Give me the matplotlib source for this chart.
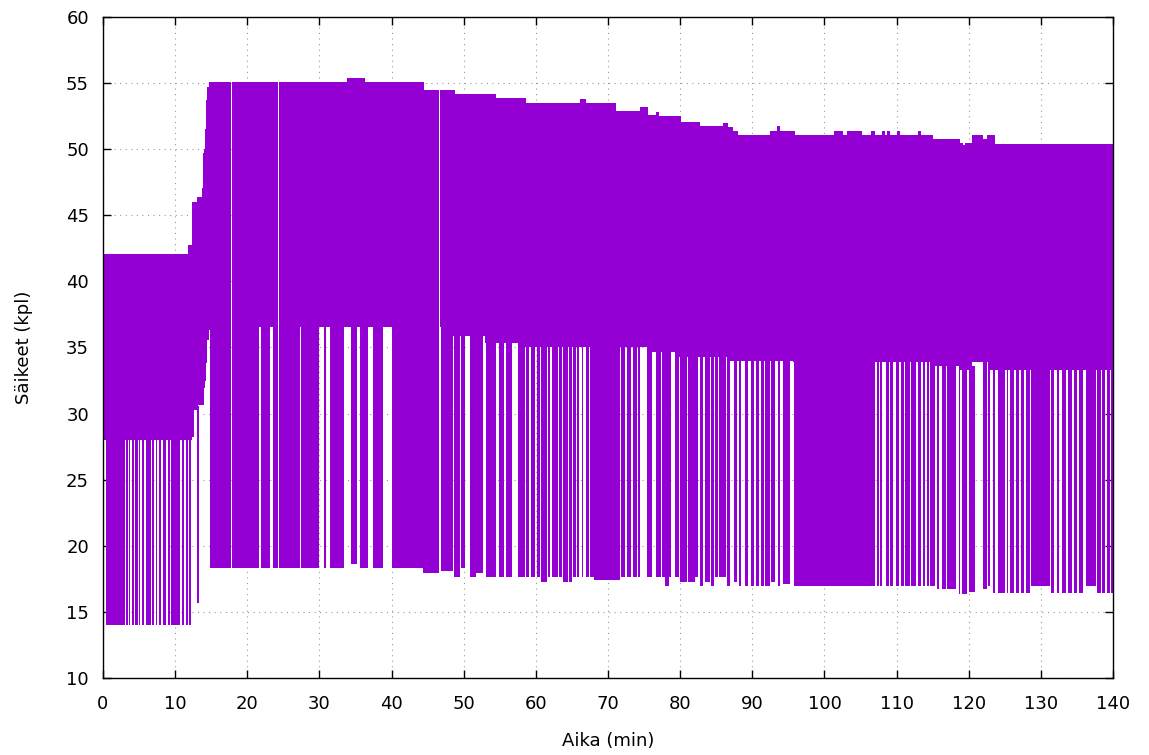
import numpy as np
import matplotlib
matplotlib.use("Agg")
import matplotlib.pyplot as plt

# upper edge of the thread count (step levels between breakpoints, minutes)
top_x = [0, 0.15, 11.75, 12.4, 13.0, 13.7, 13.8, 13.95, 14.1, 14.25, 14.4, 14.7,
         33.8, 36.3, 44.5, 48.8, 54.5, 58.6, 66.1, 67.0, 71.1, 74.4, 75.6, 76.6,
         77.1, 80.1, 82.8, 86.0, 86.6, 87.3, 88.0, 92.5, 93.4, 93.8, 95.9, 101.3,
         102.6, 103.1, 105.2, 106.4, 107.0, 108.0, 108.4, 108.7, 109.1, 110.1,
         110.5, 113.0, 113.4, 115.1, 118.8, 119.2, 119.5, 120.4, 122.0, 122.5,
         123.6, 140]
top_v = [42.4, 42.05, 42.75, 46.0, 46.4, 47.1, 49.7, 50.0, 51.5, 53.7, 54.7,
         55.05, 55.35, 55.05, 54.45, 54.2, 53.85, 53.5, 53.8, 53.5, 52.9, 53.2,
         52.6, 52.85, 52.5, 52.05, 51.75, 52.0, 51.7, 51.4, 51.07, 51.4, 51.75,
         51.4, 51.07, 51.4, 51.07, 51.4, 51.07, 51.4, 51.07, 51.4, 51.07, 51.4,
         51.07, 51.4, 51.07, 51.4, 51.07, 50.75, 50.45, 50.3, 50.45, 51.07,
         50.75, 51.07, 50.4]

# lower edge of the solid band
mid_x = [0, 12.4, 12.6, 13.2, 14.0, 14.15, 14.3, 14.4, 14.7, 14.85, 48.4, 53.0,
         57.5, 75.4, 79.3, 86.5, 95.6, 115.0, 118.8, 120.5, 123.0, 140]
mid_v = [28.0, 28.25, 30.3, 30.65, 31.9, 32.5, 33.8, 35.6, 36.3, 36.57, 35.9,
         35.35, 35.0, 34.66, 34.3, 34.0, 33.9, 33.6, 33.3, 33.9, 33.3]

# breaks in the data (no samples)
gap_x0 = [17.75, 24.25, 46.6]
gap_x1 = [17.9, 24.4, 46.75]

# drops below the band: start, end, lowest value
drop_x0 = [0.0, 0.4, 3.2, 3.6, 4.0, 4.5, 5.0, 5.45, 5.9, 6.85, 7.3, 7.75, 8.35,
           8.95, 9.5, 10.9, 11.5, 11.9, 13.0,
           14.85, 17.9, 21.85, 23.55, 24.4, 27.45, 30.6, 31.5, 34.4, 35.6, 37.4,
           40.0, 44.4, 46.85, 48.6, 49.6, 50.9, 51.7, 53.1, 54.9, 55.9, 57.5,
           58.7, 59.3, 60.1, 60.7, 61.65, 62.2, 63.25, 63.8, 64.6, 65.2, 65.7,
           66.35, 66.9, 67.5, 68.1, 71.8, 72.6, 73.4, 74.1,
           75.4, 76.65, 77.5, 77.9, 78.5, 79.3, 80.0, 81.1, 82.1, 82.75, 83.5,
           84.3, 84.9, 85.4, 86.55, 87.4, 88.1, 89.0, 89.8, 90.5, 91.2, 91.8,
           92.6, 93.6, 94.3, 95.8,
           107.25, 107.7, 108.5, 109.1, 109.9, 110.6, 111.2, 112.05, 112.9,
           113.6, 114.2, 114.7, 115.55, 116.3, 117.0, 118.6, 119.0, 120.0,
           122.0, 122.7, 123.4, 124.1, 125.3, 125.7, 126.5, 127.2, 128.0, 128.6,
           131.45, 132.2, 132.9, 133.8, 134.6, 135.3, 136.3, 137.75, 138.5,
           139.1, 139.7]
drop_x1 = [0.2, 3.05, 3.5, 3.8, 4.3, 4.9, 5.2, 5.7, 6.65, 7.1, 7.5, 8.1, 8.8,
           9.3, 10.7, 11.3, 11.8, 12.2, 13.3,
           17.75, 21.6, 23.15, 24.2, 27.3, 29.95, 30.9, 33.4, 35.2, 36.7, 38.75,
           44.4, 46.6, 48.5, 49.5, 50.2, 51.7, 52.7, 54.5, 55.6, 56.65, 58.5,
           59.05, 59.9, 60.6, 61.5, 61.96, 63.1, 63.6, 64.5, 65.0, 65.6, 66.0,
           66.6, 67.3, 68.0, 71.7, 72.4, 73.2, 74.0, 74.4,
           76.1, 77.3, 77.9, 78.5, 78.8, 79.85, 80.9, 82.1, 82.5, 83.2, 84.1,
           84.7, 85.3, 86.4, 86.9, 87.9, 88.5, 89.45, 90.3, 90.9, 91.6, 92.45,
           93.15, 93.85, 95.2, 107.0,
           107.5, 108.0, 108.9, 109.5, 110.3, 111.0, 111.9, 112.7, 113.35,
           113.95, 114.55, 115.3, 115.9, 116.8, 118.2, 118.8, 119.7, 120.9,
           122.5, 123.0, 123.7, 125.0, 125.5, 126.3, 127.0, 127.7, 128.5, 131.3,
           131.8, 132.55, 133.5, 134.35, 135.05, 135.9, 137.6, 138.3, 138.9,
           139.6, 140.0]
drop_low = [14.0] * 18 + [15.7] + \
           [18.3] * 8 + [18.6, 18.3, 18.3, 18.3, 17.97, 18.1, 17.66, 18.3,
            17.66, 17.97, 17.66, 17.66, 17.66, 17.66, 17.66, 17.66, 17.66,
            17.28, 17.66, 17.66, 17.66, 17.28, 17.28, 17.66, 17.66, 17.66,
            17.66, 17.66, 17.4, 17.66, 17.66, 17.66, 17.66] + \
           [17.66, 17.66, 17.66, 16.98, 17.66, 17.66, 17.28, 17.28, 17.66,
            16.98, 17.28, 16.98, 17.66, 17.66, 16.98, 17.28, 16.98, 16.98,
            16.98, 16.98, 16.98, 16.98, 17.28, 16.98, 17.1, 16.98] + \
           [16.98] * 12 + [16.7, 16.7, 16.7, 16.35, 16.35, 16.5, 16.7, 16.98,
            16.4, 16.4, 16.4, 16.4, 16.4, 16.4, 16.4, 16.98, 16.4, 16.4, 16.4,
            16.4, 16.4, 16.4, 16.98, 16.4, 16.4, 16.4, 16.4]

color = '#9400d3'


def step_lookup(xs, vs, x):
    i = np.searchsorted(xs, x, side='right') - 1
    return np.asarray(vs)[np.clip(i, 0, len(vs) - 1)]


fig = plt.figure(figsize=(11.49, 7.55), dpi=100)
ax = fig.add_axes([0.0896, 0.102, 0.8791, 0.8755])

# solid band, split at the data breaks
edges = np.union1d(np.union1d(top_x, mid_x), np.r_[gap_x0, gap_x1])
run_start = [0] + list(gap_x1)
run_end = list(gap_x0) + [140]
for a, b in zip(run_start, run_end):
    e = edges[(edges >= a) & (edges <= b)]
    c = (e[:-1] + e[1:]) / 2
    ax.stairs(step_lookup(top_x, top_v, c), e,
              baseline=step_lookup(mid_x, mid_v, c),
              fill=True, color=color, linewidth=0)

# drops below the band
x0 = np.array(drop_x0)
x1 = np.array(drop_x1)
low = np.array(drop_low)
upper = step_lookup(mid_x, mid_v, (x0 + x1) / 2) + 0.3
ax.bar(x0, upper - low, width=x1 - x0, bottom=low, align='edge',
       color=color, linewidth=0)

ax.set_xlim(0, 140)
ax.set_ylim(10, 60)
ax.set_xticks(np.arange(0, 141, 10))
ax.set_yticks(np.arange(10, 61, 5))
ax.grid(True, linestyle=(0, (1, 4)), color='#999999', linewidth=0.8)
ax.set_axisbelow(True)
ax.tick_params(direction='in', length=6, width=1, top=True, right=True,
               labelsize=13)
ax.tick_params(axis='x', pad=12)
ax.tick_params(axis='y', pad=10)
for s in ax.spines.values():
    s.set_linewidth(1.0)

ax.set_xlabel('Aika (min)', fontsize=13, labelpad=14)
ax.set_ylabel('Säikeet (kpl)', fontsize=13, labelpad=24)

fig.savefig('out.png', dpi=100)
